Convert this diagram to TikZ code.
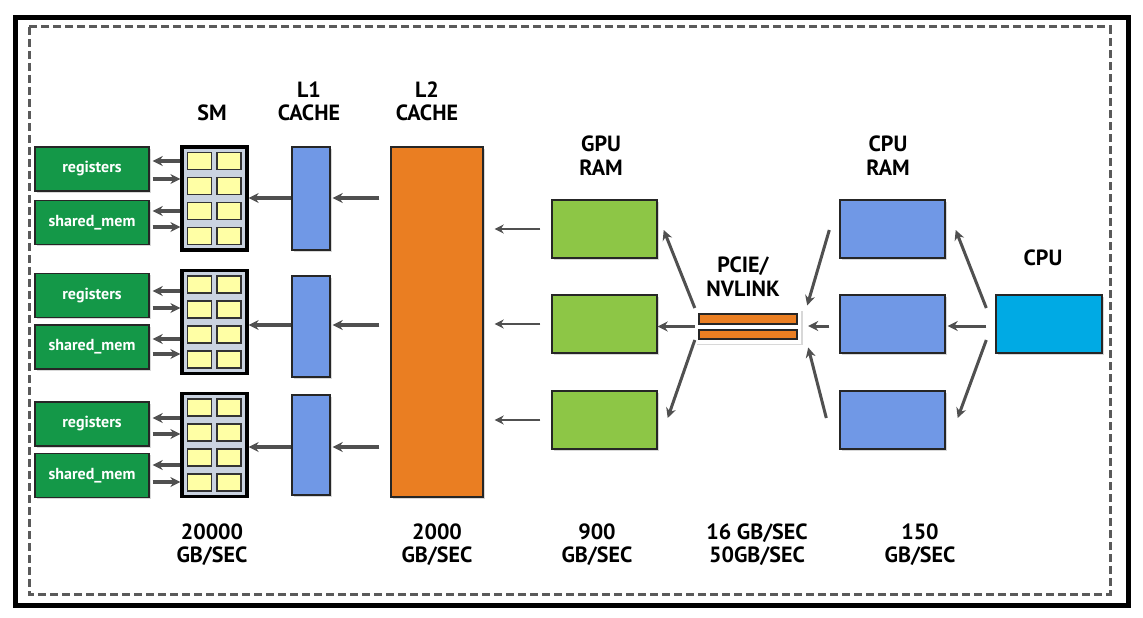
\documentclass[tikz,border=0pt]{standalone}
\usepackage{fontspec}
\setmainfont{PT Sans}
\usetikzlibrary{arrows.meta,calc,shadows}
\definecolor{regGreen}{RGB}{20,152,72}
\definecolor{gpuGreen}{RGB}{141,198,70}
\definecolor{l2Orange}{RGB}{234,126,34}
\definecolor{memBlue}{RGB}{112,152,230}
\definecolor{cpuCyan}{RGB}{0,170,228}
\definecolor{smGray}{RGB}{202,211,224}
\definecolor{cellYellow}{RGB}{255,255,165}
\definecolor{arrowGray}{RGB}{80,80,80}
\definecolor{frameGray}{RGB}{90,90,90}
\begin{document}
\begin{tikzpicture}[x=1pt,y=-1pt,
  shadowed/.style={drop shadow={shadow xshift=1.5pt,shadow yshift=-1.5pt,opacity=0.3}},
  boxbase/.style={draw=black!85,line width=1.4pt,inner sep=0pt,shadowed},
  gbox/.style={boxbase,fill=regGreen,minimum width=114pt,minimum height=44pt,
    text=white,font=\bfseries\fontsize{16}{16}\selectfont},
  smbox/.style={draw=black,line width=3.2pt,fill=smGray,minimum width=65pt,minimum height=103pt,inner sep=0pt,shadowed},
  cell/.style={draw=black!80,line width=1.1pt,fill=cellYellow,minimum width=24pt,minimum height=17pt,inner sep=0pt},
  l1box/.style={boxbase,fill=memBlue,minimum width=38pt},
  l2box/.style={boxbase,fill=l2Orange},
  gram/.style={boxbase,fill=gpuGreen,minimum width=105pt,minimum height=58pt},
  cram/.style={boxbase,fill=memBlue,minimum width=105pt,minimum height=58pt},
  cpubox/.style={boxbase,fill=cpuCyan,minimum width=106pt,minimum height=58pt},
  pcieback/.style={fill=white,minimum width=106pt,minimum height=34pt,inner sep=0pt,shadowed},
  bar/.style={draw=black!85,line width=1.2pt,fill=l2Orange,minimum width=98pt,inner sep=0pt},
  lbl/.style={font=\bfseries\fontsize{22}{23.5}\selectfont,align=center,inner sep=0pt},
  arr/.style={draw=arrowGray,line width=3.2pt,-{Stealth[length=10pt,width=10pt]}},
  arrmid/.style={draw=arrowGray,line width=3pt,-{Stealth[length=10pt,width=10pt]}},
  arrthin/.style={draw=arrowGray,line width=2.6pt,-{Stealth[length=9pt,width=9pt]}}
]
\useasboundingbox (0,0) rectangle (1143,618);
\fill[white] (0,0) rectangle (1143,618);
\draw[line width=5pt] (15.5,18) rectangle (1128,605.5);
\draw[frameGray,line width=3pt,dash pattern=on 8pt off 4pt] (29,27) rectangle (1110,594);

% left groups
\foreach \i/\rc/\sc/\mc/\lc/\lh/\la/\ya/\yb/\yc/\yd in {
  1/169/222.5/198.5/198.5/103/198/161/179/211/227,
  2/295.5/347/322/326.5/101/325/291/308/339/354,
  3/424/475.5/445/445/100/447/418/434/465/482}{
  \node[gbox] (reg\i) at (92,\rc) {registers};
  \node[gbox] (sh\i) at (92,\sc) {shared\_mem};
  \node[smbox] (sm\i) at (214.5,\mc) {};
  \foreach \r/\dy in {1/-37.5,2/-12.5,3/12.5,4/37.5}{
    \node[cell] (cl\i\r) at (199.5,{\mc+\dy}) {};
    \node[cell] (cr\i\r) at (229,{\mc+\dy}) {};
  }
  \node[l1box,minimum height=\lh pt] (l1\i) at (311,\lc) {};
  \draw[arr,shorten >=3pt] (sm\i.west |- 0,\ya) -- (reg\i.east |- 0,\ya);
  \draw[arr,shorten <=3pt] (reg\i.east |- 0,\yb) -- (sm\i.west |- 0,\yb);
  \draw[arr,shorten >=3pt] (sm\i.west |- 0,\yc) -- (sh\i.east |- 0,\yc);
  \draw[arr,shorten <=3pt] (sh\i.east |- 0,\yd) -- (sm\i.west |- 0,\yd);
  \draw[arr] (l1\i.west |- 0,\la) -- (sm\i.east |- 0,\la);
}

% L2 cache
\node[l2box,minimum width=92pt,minimum height=350pt] (l2) at (437,322) {};
\foreach \i/\la in {1/198,2/325,3/447}{
  \draw[arr,shorten <=11pt,shorten >=2pt] (l2.west |- 0,\la) -- (l1\i.east |- 0,\la);
}

% GPU RAM
\foreach \i/\y in {1/229,2/324,3/420}{
  \node[gram] (gpu\i) at (604.5,\y) {};
  \draw[arrthin,shorten <=11pt,shorten >=11pt] (gpu\i.west) -- (l2.east |- gpu\i.west);
}

% CPU RAM
\foreach \i/\y in {1/229,2/324,3/420}{
  \node[cram] (cram\i) at (892.5,\y) {};
}

% CPU
\node[cpubox] (cpu) at (1049,324) {};

% PCIe / NVLink
\node[pcieback] (pcie) at (748,326.5) {};
\node[bar,minimum height=10pt] (bar1) at (748,319) {};
\node[bar,minimum height=9pt] (bar2) at (748,334.5) {};

% right side arrows
\draw[arrmid] (pcie.west) -- (pcie.west -| gpu2.east);
\draw[arrmid] ($(pcie.west)+(0,-18.5)$) -- ($(gpu1.east)+(6,1)$);
\draw[arrmid] ($(pcie.west)+(0,13.5)$) -- ($(gpu3.east)+(10,-2)$);
\draw[arrmid] ($(cram1.west)+(-10,1)$) -- ($(pcie.east)+(6,-21)$);
\draw[arrmid] ($(cram2.west)+(-10,2)$) -- ($(cram2.west -| pcie.east)+(7,2)$);
\draw[arrmid] ($(cram3.west)+(-13,-2)$) -- ($(pcie.east)+(7,21)$);
\draw[arrmid] ($(cpu.west)+(-9,-16)$) -- ($(cram1.east)+(10,1)$);
\draw[arrmid] ($(cpu.west)+(-9,2)$) -- ($(cram2.east)+(2,2)$);
\draw[arrmid] ($(cpu.west)+(-9,16)$) -- ($(cram3.east)+(12,-2)$);

% labels
\node[lbl] (tSM) at (212,113) {SM};
\node[lbl] (tL1) at (309,101.5) {L1\\CACHE};
\node[lbl] (tL2) at (427,101.5) {L2\\CACHE};
\node[lbl] (tGPU) at (601,155.5) {GPU\\RAM};
\node[lbl] (tPCIE) at (743,276.5) {PCIE/\\NVLINK};
\node[lbl] (tCRAM) at (888,155.5) {CPU\\RAM};
\node[lbl] (tCPU) at (1043,258) {CPU};

\node[lbl] (b1) at (212,544.5) {20000\\GB/SEC};
\node[lbl] (b2) at (437,544.5) {2000\\GB/SEC};
\node[lbl] (b3) at (597,544.5) {900\\GB/SEC};
\node[lbl] (b4) at (757,544.5) {16 GB/SEC\\50GB/SEC};
\node[lbl] (b5) at (920,544.5) {150\\GB/SEC};
\end{tikzpicture}
\end{document}
